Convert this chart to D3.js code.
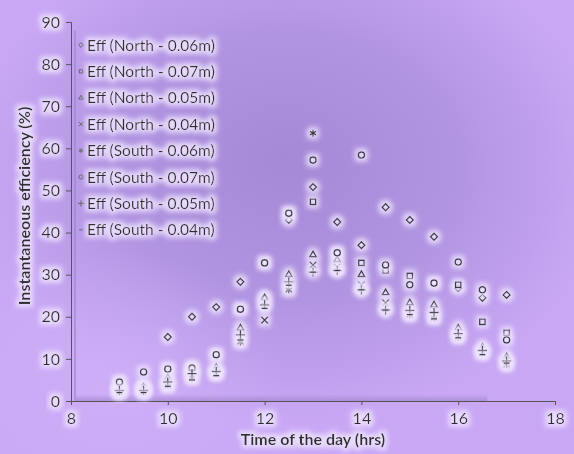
<!DOCTYPE html>
<html>
<head>
<meta charset="utf-8">
<script src="https://cdn.jsdelivr.net/npm/d3@7"></script>
<style>
html,body{margin:0;padding:0;background:#c8a6f4;}
svg{display:block;font-family:Lato,"Open Sans",sans-serif;}
</style>
</head>
<body>
<svg id="chart" width="574" height="454"></svg>
<script>
const times = [9, 9.5, 10, 10.5, 11, 11.5, 12, 12.5, 13, 13.5, 14, 14.5, 15, 15.5, 16, 16.5, 17];
const seriesNames = ["Eff (North - 0.06m)", "Eff (North - 0.07m)", "Eff (North - 0.05m)", "Eff (North - 0.04m)",
                     "Eff (South - 0.06m)", "Eff (South - 0.07m)", "Eff (South - 0.05m)", "Eff (South - 0.04m)"];
const north006 = [3, 3.3, 15.2, 20, 22.3, 28.3, 24.5, 43, 50.8, 42.5, 37, 46, 43, 39, 26.8, 24.5, 25.2];
const north007 = [4.5, 3.3, 7.6, 7.8, 11, 21.8, 32.8, 44.6, 47.3, 35.2, 32.8, 31, 29.7, 28, 27.6, 18.8, 16.2];
const north005 = [3, 3.3, 5.5, 7.8, 8, 17.3, 24.5, 30, 34.7, 33.5, 30, 25.7, 23.3, 22.8, 17.3, 12.8, 10.5];
const north004 = [2, 2.1, 3.6, 5.5, 6.5, 14, 19.2, 26.4, 32.3, 31.8, 27.6, 23.3, 20.4, 19.7, 15.2, 11.4, 8.6];
const south006 = [2, 2.1, 3.6, 5.5, 6.5, 14, 22.8, 26.4, 63.6, 31, 26.4, 21.6, 20.4, 19.7, 15.2, 11.4, 8.6];
const south007 = [4.5, 6.9, 7.6, 7.8, 11, 21.8, 32.8, 44.6, 57.2, 35.2, 58.4, 32.3, 27.6, 28, 33, 26.4, 14.5];
const south005 = [2.5, 2.5, 4.5, 6.5, 7, 15.7, 22.8, 28.3, 30.6, 31, 26.4, 21.6, 21.5, 21, 16, 12, 9.5];
const south004 = [2, 2, 3.5, 5, 6, 14.5, 22, 27.5, 30.6, 31, 26.4, 21.6, 20.5, 19.5, 15, 11, 9];
const allSeries = [north006, north007, north005, north004, south006, south007, south005, south004];
const xTicks = [8, 10, 12, 14, 16, 18];
const yTicks = [0, 10, 20, 30, 40, 50, 60, 70, 80, 90];
const xTitle = "Time of the day (hrs)";
const yTitle = "Instantaneous efficiency (%)";

const svg = d3.select("#chart");
const W = 574, H = 454;
const defs = svg.append("defs");

// background shading
const rg = defs.append("radialGradient").attr("id", "bg")
  .attr("cx", 0.5).attr("cy", 0.38).attr("r", 0.55).attr("fx", 0.5).attr("fy", 0.35);
rg.append("stop").attr("offset", "0%").attr("stop-color", "#a689d6");
rg.append("stop").attr("offset", "55%").attr("stop-color", "#b295e2");
rg.append("stop").attr("offset", "100%").attr("stop-color", "#c9a7f5");
const rg2 = defs.append("radialGradient").attr("id", "bg2")
  .attr("cx", 0.2).attr("cy", 0.85).attr("r", 0.3);
rg2.append("stop").attr("offset", "0%").attr("stop-color", "#cfb0f8").attr("stop-opacity", 0.8);
rg2.append("stop").attr("offset", "100%").attr("stop-color", "#cfb0f8").attr("stop-opacity", 0);

const glow = defs.append("filter").attr("id", "glow").attr("x", "-50%").attr("y", "-50%").attr("width", "200%").attr("height", "200%");
glow.append("feMorphology").attr("in", "SourceAlpha").attr("operator", "dilate").attr("radius", 2.5).attr("result", "d");
glow.append("feGaussianBlur").attr("in", "d").attr("stdDeviation", 2.5).attr("result", "b");
glow.append("feFlood").attr("flood-color", "#eee4ff").attr("flood-opacity", 0.85).attr("result", "c");
glow.append("feComposite").attr("in", "c").attr("in2", "b").attr("operator", "in").attr("result", "g");
const gm = glow.append("feMerge");
gm.append("feMergeNode").attr("in", "g");
gm.append("feMergeNode").attr("in", "SourceGraphic");

svg.append("rect").attr("width", W).attr("height", H).attr("fill", "#c8a6f4");
svg.append("rect").attr("x", 0).attr("y", 0).attr("width", W).attr("height", H).attr("fill", "url(#bg)");
svg.append("rect").attr("x", 0).attr("y", 0).attr("width", W).attr("height", H).attr("fill", "url(#bg2)");

const x = d3.scaleLinear().domain([8, 18]).range([71, 555]);
const y = d3.scaleLinear().domain([0, 90]).range([401, 22]);

// faint shadow band above x-axis
const sg = defs.append("linearGradient").attr("id", "shadow").attr("x1", 0).attr("x2", 0).attr("y1", 0).attr("y2", 1);
sg.append("stop").attr("offset", "0%").attr("stop-color", "#8f78b8").attr("stop-opacity", 0);
sg.append("stop").attr("offset", "100%").attr("stop-color", "#8f78b8").attr("stop-opacity", 0.5);
svg.append("rect").attr("x", x(8.1)).attr("y", y(1.6)).attr("width", x(16.6) - x(8.1)).attr("height", y(0) - y(1.6)).attr("fill", "url(#shadow)");
svg.append("line").attr("x1", x(8) + 4).attr("x2", x(8) + 4).attr("y1", y(88)).attr("y2", y(0))
  .attr("stroke", "#9d86c6").attr("stroke-width", 2).attr("opacity", 0.6);

const axisColor = "#555";
const gx = svg.append("g").attr("transform", `translate(0,${y(0)})`)
  .call(d3.axisBottom(x).tickValues(xTicks).tickSize(4).tickPadding(8).tickFormat(d3.format("d")));
const gy = svg.append("g").attr("transform", `translate(${x(8)},0)`)
  .call(d3.axisLeft(y).tickValues(yTicks).tickSize(5).tickPadding(6).tickFormat(d3.format("d")));
[gx, gy].forEach(g => {
  g.select(".domain").attr("stroke", axisColor);
  g.selectAll(".tick line").attr("stroke", axisColor);
  g.selectAll(".tick text").attr("fill", "#2e2e2e").attr("font-size", 16).attr("font-family", "Lato, sans-serif").attr("filter", "url(#glow)");
});

// axis titles
svg.append("text").attr("x", (x(8) + x(18)) / 2).attr("y", 445).attr("text-anchor", "middle")
  .attr("font-size", 16).attr("font-weight", "bold").attr("fill", "#2e2e2e").attr("filter", "url(#glow)").text(xTitle);
svg.append("text").attr("transform", `translate(30,206) rotate(-90)`).attr("text-anchor", "middle")
  .attr("font-size", 16).attr("font-weight", "bold").attr("fill", "#2e2e2e").attr("filter", "url(#glow)").text(yTitle);

const dash = { draw(ctx, size) { const r = Math.sqrt(size) / 2; ctx.moveTo(-r, 0); ctx.lineTo(r, 0); } };
const symbols = [d3.symbolDiamond2, d3.symbolSquare2, d3.symbolTriangle2, d3.symbolX, d3.symbolAsterisk, d3.symbolCircle, d3.symbolPlus, dash];
const sizes = [30, 36, 30, 30, 34, 30, 30, 36];

const markColor = "#3a3a44";
allSeries.forEach((vals, i) => {
  const g = svg.append("g").attr("filter", "url(#glow)");
  g.selectAll("path").data(vals).join("path")
    .attr("transform", (d, j) => `translate(${x(times[j])},${y(d)})`)
    .attr("d", d3.symbol(symbols[i], sizes[i]))
    .attr("fill", "none").attr("stroke", markColor).attr("stroke-width", 1.4);
});

// legend
const lg = svg.append("g");
seriesNames.forEach((name, i) => {
  const ly = 45 + i * 26.4;
  lg.append("path").attr("transform", `translate(81,${ly})`)
    .attr("d", d3.symbol(symbols[i], 14)).attr("fill", "none").attr("stroke", "#666").attr("stroke-width", 1);
  lg.append("text").attr("x", 87).attr("y", ly + 5.5).attr("font-size", 15.5).attr("fill", "#2e2e2e")
    .attr("filter", "url(#glow)").text(name);
});
</script>
</body>
</html>
